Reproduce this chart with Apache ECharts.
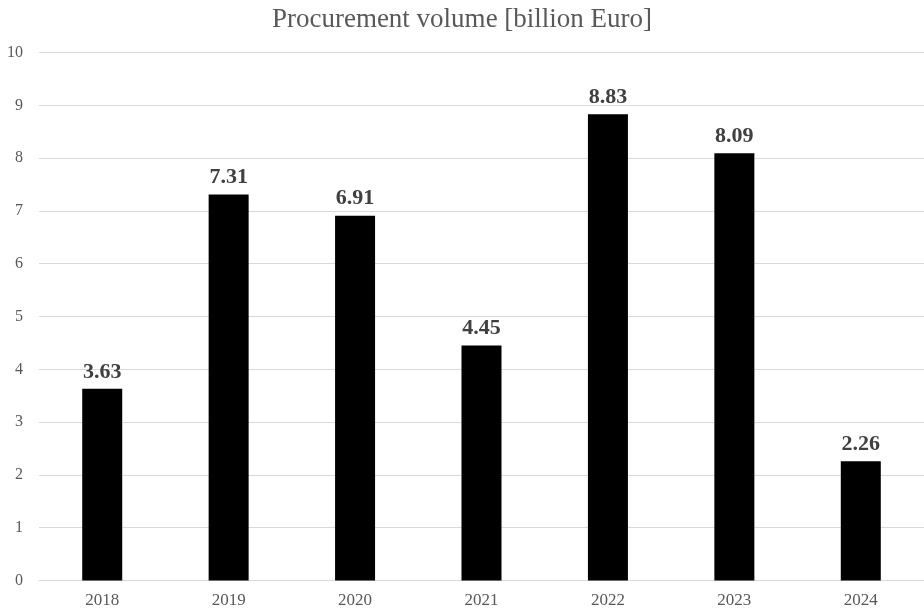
<!DOCTYPE html>
<html>
<head>
<meta charset="utf-8">
<script src="https://cdn.jsdelivr.net/npm/echarts@6/dist/echarts.min.js"></script>
<style>html,body{margin:0;padding:0;background:#fff}#c{width:924px;height:610px}</style>
</head>
<body>
<div id="c"></div>
<script>
const titleText = 'Procurement volume [billion Euro]';
const years = ['2018','2019','2020','2021','2022','2023','2024'];
const volumes = [3.63, 7.31, 6.91, 4.45, 8.83, 8.09, 2.26];

const chart = echarts.init(document.getElementById('c'));
chart.setOption({
  animation: false,
  backgroundColor: '#fff',
  textStyle: { fontFamily: 'Liberation Serif' },
  title: {
    text: titleText,
    left: 'center',
    top: 1,
    textStyle: { fontFamily: 'Liberation Serif', fontSize: 27, fontWeight: 'normal', color: '#595959' }
  },
  grid: { left: 39, right: 0, top: 52.5, bottom: 29.5, containLabel: false },
  xAxis: {
    type: 'category',
    data: years,
    axisLine: { lineStyle: { color: '#d9d9d9', width: 1 } },
    axisTick: { show: false },
    axisLabel: { color: '#595959', fontSize: 17, fontFamily: 'Liberation Serif', margin: 12 }
  },
  yAxis: {
    type: 'value',
    min: 0, max: 10, interval: 1,
    axisLine: { show: false },
    axisTick: { show: false },
    splitLine: { lineStyle: { color: '#d9d9d9', width: 1 } },
    axisLabel: { color: '#595959', fontSize: 16, fontFamily: 'Liberation Serif', margin: 16 }
  },
  series: [{
    type: 'bar',
    data: volumes,
    barWidth: 40,
    itemStyle: { color: '#000' },
    label: {
      show: true,
      position: 'top',
      distance: 6,
      color: '#404040',
      fontSize: 22,
      fontWeight: 'bold',
      fontFamily: 'Liberation Serif',
      formatter: p => p.value.toFixed(2)
    }
  }]
});
</script>
</body>
</html>
